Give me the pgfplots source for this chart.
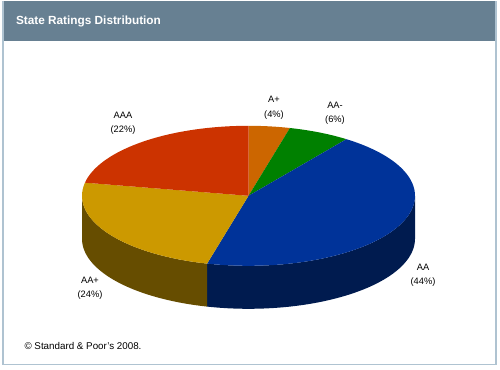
\documentclass[border=0pt]{standalone}
\usepackage{pgfplots}
\pgfplotsset{compat=1.18}
\usepgfplotslibrary{fillbetween}
\usepackage{fontspec}
\setmainfont{Liberation Sans}
\definecolor{hdr}{RGB}{103,128,146}
\definecolor{frm}{RGB}{175,195,209}
\definecolor{cAp}{RGB}{204,102,0}
\definecolor{cAAm}{RGB}{0,128,0}
\definecolor{cAA}{RGB}{0,51,153}
\definecolor{cAAp}{RGB}{204,153,0}
\definecolor{cAAA}{RGB}{204,51,0}
\definecolor{sAA}{RGB}{0,27,79}
\definecolor{sAAp}{RGB}{102,77,0}
% shares (percent), clockwise from 12 o'clock
\def\vAp{4}\def\vAAm{6}\def\vAA{44}\def\vAAp{24}\def\vAAA{22}
\pgfmathsetmacro\aA{90}
\pgfmathsetmacro\aB{\aA-3.6*\vAp}
\pgfmathsetmacro\aC{\aB-3.6*\vAAm}
\pgfmathsetmacro\aD{\aC-3.6*\vAA}
\pgfmathsetmacro\aE{\aD-3.6*\vAAp}
\pgfmathsetmacro\aF{\aE-3.6*\vAAA}
\def\cx{248.5}\def\cy{174}\def\rx{166.5}\def\ry{70}\def\dep{43}
\begin{document}
\begin{tikzpicture}
\begin{axis}[scale only axis, width=500pt, height=369pt,
  xmin=0, xmax=500, ymin=0, ymax=369, axis lines=none, clip=false]
% frame and header
\path (axis cs:0,0) rectangle (axis cs:500,369);
\fill[hdr] (axis cs:3,329) rectangle (axis cs:495.5,369);
\draw[frm, line width=1.6pt] (axis cs:3,369) -- (axis cs:3,5.5) -- (axis cs:496,5.5) -- (axis cs:496,369);
\node[anchor=west, text=white, font=\fontsize{11.8}{13}\selectfont\bfseries] at (axis cs:12.5,348) {State Ratings Distribution};
% sides (front)
\addplot[draw=none, name path=t1, domain=\aD:0, samples=60] ({\cx+\rx*cos(x)},{\cy+\ry*sin(x)});
\addplot[draw=none, name path=b1, domain=\aD:0, samples=60] ({\cx+\rx*cos(x)},{\cy-\dep+\ry*sin(x)});
\addplot[fill=sAA, draw=none] fill between[of=t1 and b1];
\addplot[draw=none, name path=t2, domain=-180:\aD, samples=60] ({\cx+\rx*cos(x)},{\cy+\ry*sin(x)});
\addplot[draw=none, name path=b2, domain=-180:\aD, samples=60] ({\cx+\rx*cos(x)},{\cy-\dep+\ry*sin(x)});
\addplot[fill=sAAp, draw=none] fill between[of=t2 and b2];
% tops
\addplot[fill=cAp, draw=none, domain=\aB:\aA, samples=20] ({\cx+\rx*cos(x)},{\cy+\ry*sin(x)}) -- (axis cs:\cx,\cy) -- cycle;
\addplot[fill=cAAm, draw=none, domain=\aC:\aB, samples=20] ({\cx+\rx*cos(x)},{\cy+\ry*sin(x)}) -- (axis cs:\cx,\cy) -- cycle;
\addplot[fill=cAA, draw=none, domain=\aD:\aC, samples=90] ({\cx+\rx*cos(x)},{\cy+\ry*sin(x)}) -- (axis cs:\cx,\cy) -- cycle;
\addplot[fill=cAAp, draw=none, domain=\aE:\aD, samples=50] ({\cx+\rx*cos(x)},{\cy+\ry*sin(x)}) -- (axis cs:\cx,\cy) -- cycle;
\addplot[fill=cAAA, draw=none, domain=\aF:\aE, samples=50] ({\cx+\rx*cos(x)},{\cy+\ry*sin(x)}) -- (axis cs:\cx,\cy) -- cycle;
% labels
\begin{scope}[every node/.style={align=center, font=\fontsize{9.3}{14.8}\selectfont, text=black}]
\node at (axis cs:274,262) {A+\\(4\%)};
\node at (axis cs:335,256.5) {AA-\\(6\%)};
\node at (axis cs:123,246.5) {AAA\\(22\%)};
\node at (axis cs:90,81.5) {AA+\\(24\%)};
\node at (axis cs:423,94.5) {AA\\(44\%)};
\end{scope}
\node[anchor=west, font=\fontsize{9.8}{11}\selectfont] at (axis cs:21,24) {\textcopyright\ Standard \& Poor's 2008.};
\end{axis}
\end{tikzpicture}
\end{document}
